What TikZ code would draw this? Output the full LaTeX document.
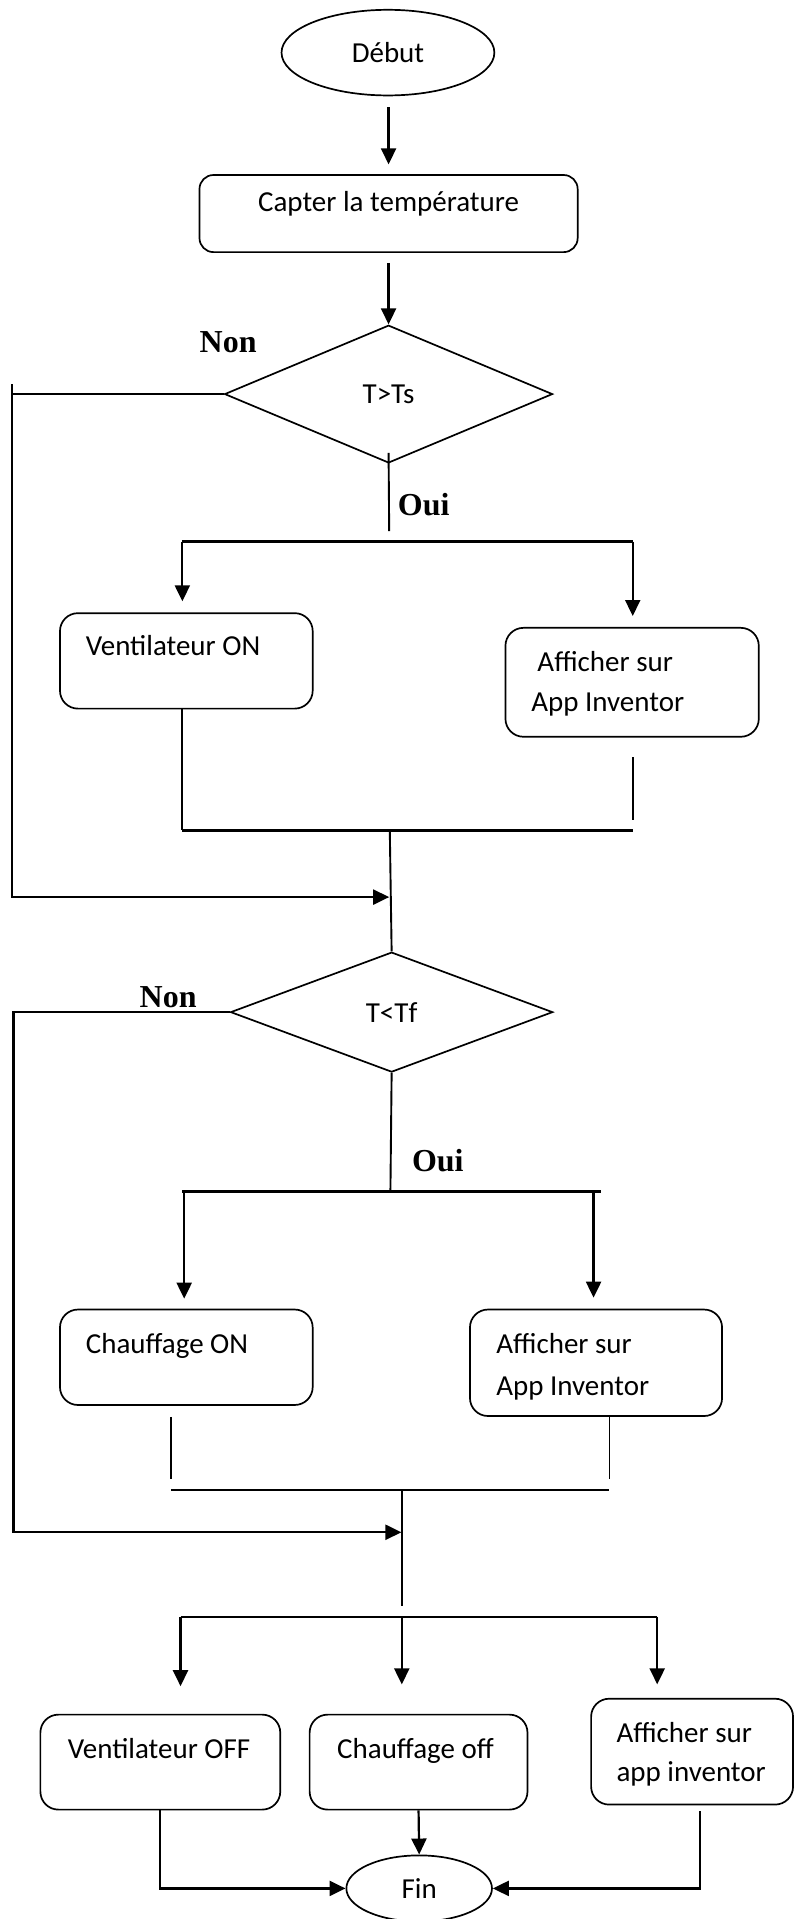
\documentclass[tikz,border=0pt]{standalone}
\usepackage{fontspec}
\setmainfont{Carlito}
\newfontfamily\tnr{Liberation Serif}
\usetikzlibrary{arrows.meta,shapes.geometric,fit}
\newcommand\calfs{\fontsize{29}{34}\selectfont}
\begin{document}
\begin{tikzpicture}[x=1.2246pt, y=-1.2246pt,
  line/.style={line width=1.9pt},
  box/.style={draw, rounded corners=18pt, inner sep=0pt, line width=1.7pt},
  txt/.style={font=\calfs, inner sep=0pt, anchor=base west},
  lab/.style={font=\tnr\bfseries\fontsize{32}{38}\selectfont, inner sep=0pt, anchor=base west},
  arr/.style={-{Triangle[length=16pt,width=15pt]}, line width=2.2pt},
  dia/.style={draw, diamond, inner sep=0pt, line width=1.7pt, font=\calfs},
  ell/.style={draw, ellipse, inner sep=0pt, line width=1.7pt, font=\calfs}]
\useasboundingbox (0,0) rectangle (650,1568);

% ---- nodes ----
\node[ell, minimum width=213pt, minimum height=85.7pt] (debut) at (317,43) {Début};
\node[box, rounded corners=14pt, fit={(163,143) (472,206)}, font=\calfs] (capter) {Capter la température};
\node[dia, minimum width=328.2pt, minimum height=137.8pt] (d1) at (317.5,322) {T>Ts};
\node[lab] (non1) at (163,288) {Non};
\node[lab] (oui1) at (325,421) {Oui};

\node[box, fit={(49,501) (255.5,579)}] (vent) {};
\node[txt] (ventt) at (70,536) {Ventilateur ON};
\node[box, fit={(413,513) (620,602)}] (aff1) {};
\node[txt] (aff1a) at (439,549) {Afficher sur};
\node[txt] (aff1b) at (434,581) {App Inventor};

\node[dia, minimum width=322.4pt, minimum height=120pt] (d2) at (320,827) {T<Tf};
\node[lab] (non2) at (114,823) {Non};
\node[lab] (oui2) at (336.5,957) {Oui};

\node[box, fit={(49,1070) (255.5,1148)}] (chon) {};
\node[txt] (chont) at (70,1106) {Chauffage ON};
\node[box, fit={(384,1070) (590,1157)}] (aff2) {};
\node[txt] (aff2a) at (405.4,1106) {Afficher sur};
\node[txt] (aff2b) at (405.4,1140.5) {App Inventor};

\node[box, fit={(33,1401) (229,1478.6)}] (voff) {};
\node[txt, anchor=base] (vofft) at (130,1437) {Ventilateur OFF};
\node[box, fit={(253,1401) (431,1478.6)}] (choff) {};
\node[txt, anchor=base] (chofft) at (339.5,1437) {Chauffage off};
\node[box, fit={(483,1388) (648,1474.5)}] (aff3) {};
\node[txt] (aff3a) at (503.6,1423.6) {Afficher sur};
\node[txt] (aff3b) at (503.6,1456) {app inventor};

\node[ell, minimum width=145.7pt, minimum height=66.1pt] (fin) at (342.5,1543) {Fin};

% ---- coordinates ----
\coordinate (n1a) at (10,322);
\coordinate (n1top) at (10,314);
\coordinate (n1bot) at (10,733);
\coordinate (m1) at (318,733);
\coordinate (o1) at (318,434);
\coordinate (b1l) at (149,442.5);
\coordinate (b1r) at (517,442.5);
\coordinate (j1l) at (149,678.5);
\coordinate (j1r) at (517,678.5);
\coordinate (s1b) at (517,670);
\coordinate (j1c) at (318.5,678.5);

\coordinate (n2x) at (11,828);
\coordinate (n2bot) at (11,1252);
\coordinate (m2) at (328,1252);
\coordinate (o2) at (319,973.6);
\coordinate (b2l) at (149,973.6);
\coordinate (b2r) at (491,973.6);
\coordinate (b2a) at (150.5,973.6);
\coordinate (b2b) at (485,973.6);
\coordinate (j2l) at (139.7,1208.6);
\coordinate (j2r) at (498,1208.6);
\coordinate (h2l) at (139.7,1217.3);
\coordinate (h2r) at (498,1217.3);
\coordinate (h2c) at (328.3,1217.3);
\coordinate (c2e) at (328.3,1312);
\coordinate (h3l) at (147.5,1321);
\coordinate (h3r) at (537,1321);
\coordinate (h3c) at (328.3,1321);
\coordinate (r3) at (572,1480);

% ---- connectors ----
\draw[arr, shorten <=11pt, shorten >=9.8pt] (debut.south -| capter.north) -- (capter.north);
\draw[arr, shorten <=10pt] (capter.south) -- (d1.north);

\draw[line] (d1.west) -- (n1a);
\draw[arr] (n1top) -- (n1bot) -- (m1);

\draw[line] (d1.south) ++(0,-9) -- (o1);
\draw[line, line width=2.4pt] (b1l) -- (b1r);
\draw[arr, shorten >=11pt] (b1l) -- (b1l |- vent.north);
\draw[arr, shorten >=11pt] (b1r) -- (b1r |- aff1.north);

\draw[line] (vent.south -| j1l) -- (j1l);
\draw[line, line width=2.4pt] (j1l) -- (j1r);
\draw[line, shorten <=19.6pt] (aff1.south -| s1b) -- (s1b);
\draw[line] (j1c) -- (d2.north);

\draw[arr] (d2.west) -- (d2.west -| n2x) -- (n2bot) -- (m2);
\draw[line] (d2.south) -- (o2);
\draw[line, line width=2.4pt] (b2l) -- (b2r);
\draw[arr, shorten >=10pt] (b2a) -- (b2a |- chon.north);
\draw[arr, shorten >=11pt] (b2b) -- (b2b |- aff2.north);

\draw[line, shorten <=11pt] (chon.south -| j2l) -- (j2l);
\draw[line] (aff2.south -| j2r) -- (j2r);
\draw[line, line width=2.4pt] (h2l) -- (h2r);
\draw[line] (h2c) -- (c2e);

\draw[line, line width=2.4pt] (h3l) -- (h3r);
\draw[arr, shorten >=27.6pt] (h3l) -- (h3l |- voff.north);
\draw[arr, shorten >=29.4pt] (h3c) -- (h3c |- choff.north);
\draw[arr, shorten >=13.5pt] (h3r) -- (h3r |- aff3.north);

\draw[arr] (voff.south) |- (fin.west);
\draw[arr] (choff.south) -- (fin.north);
\draw[arr, shorten <=6pt] (aff3.south -| r3) |- (fin.east);
\end{tikzpicture}
\end{document}
